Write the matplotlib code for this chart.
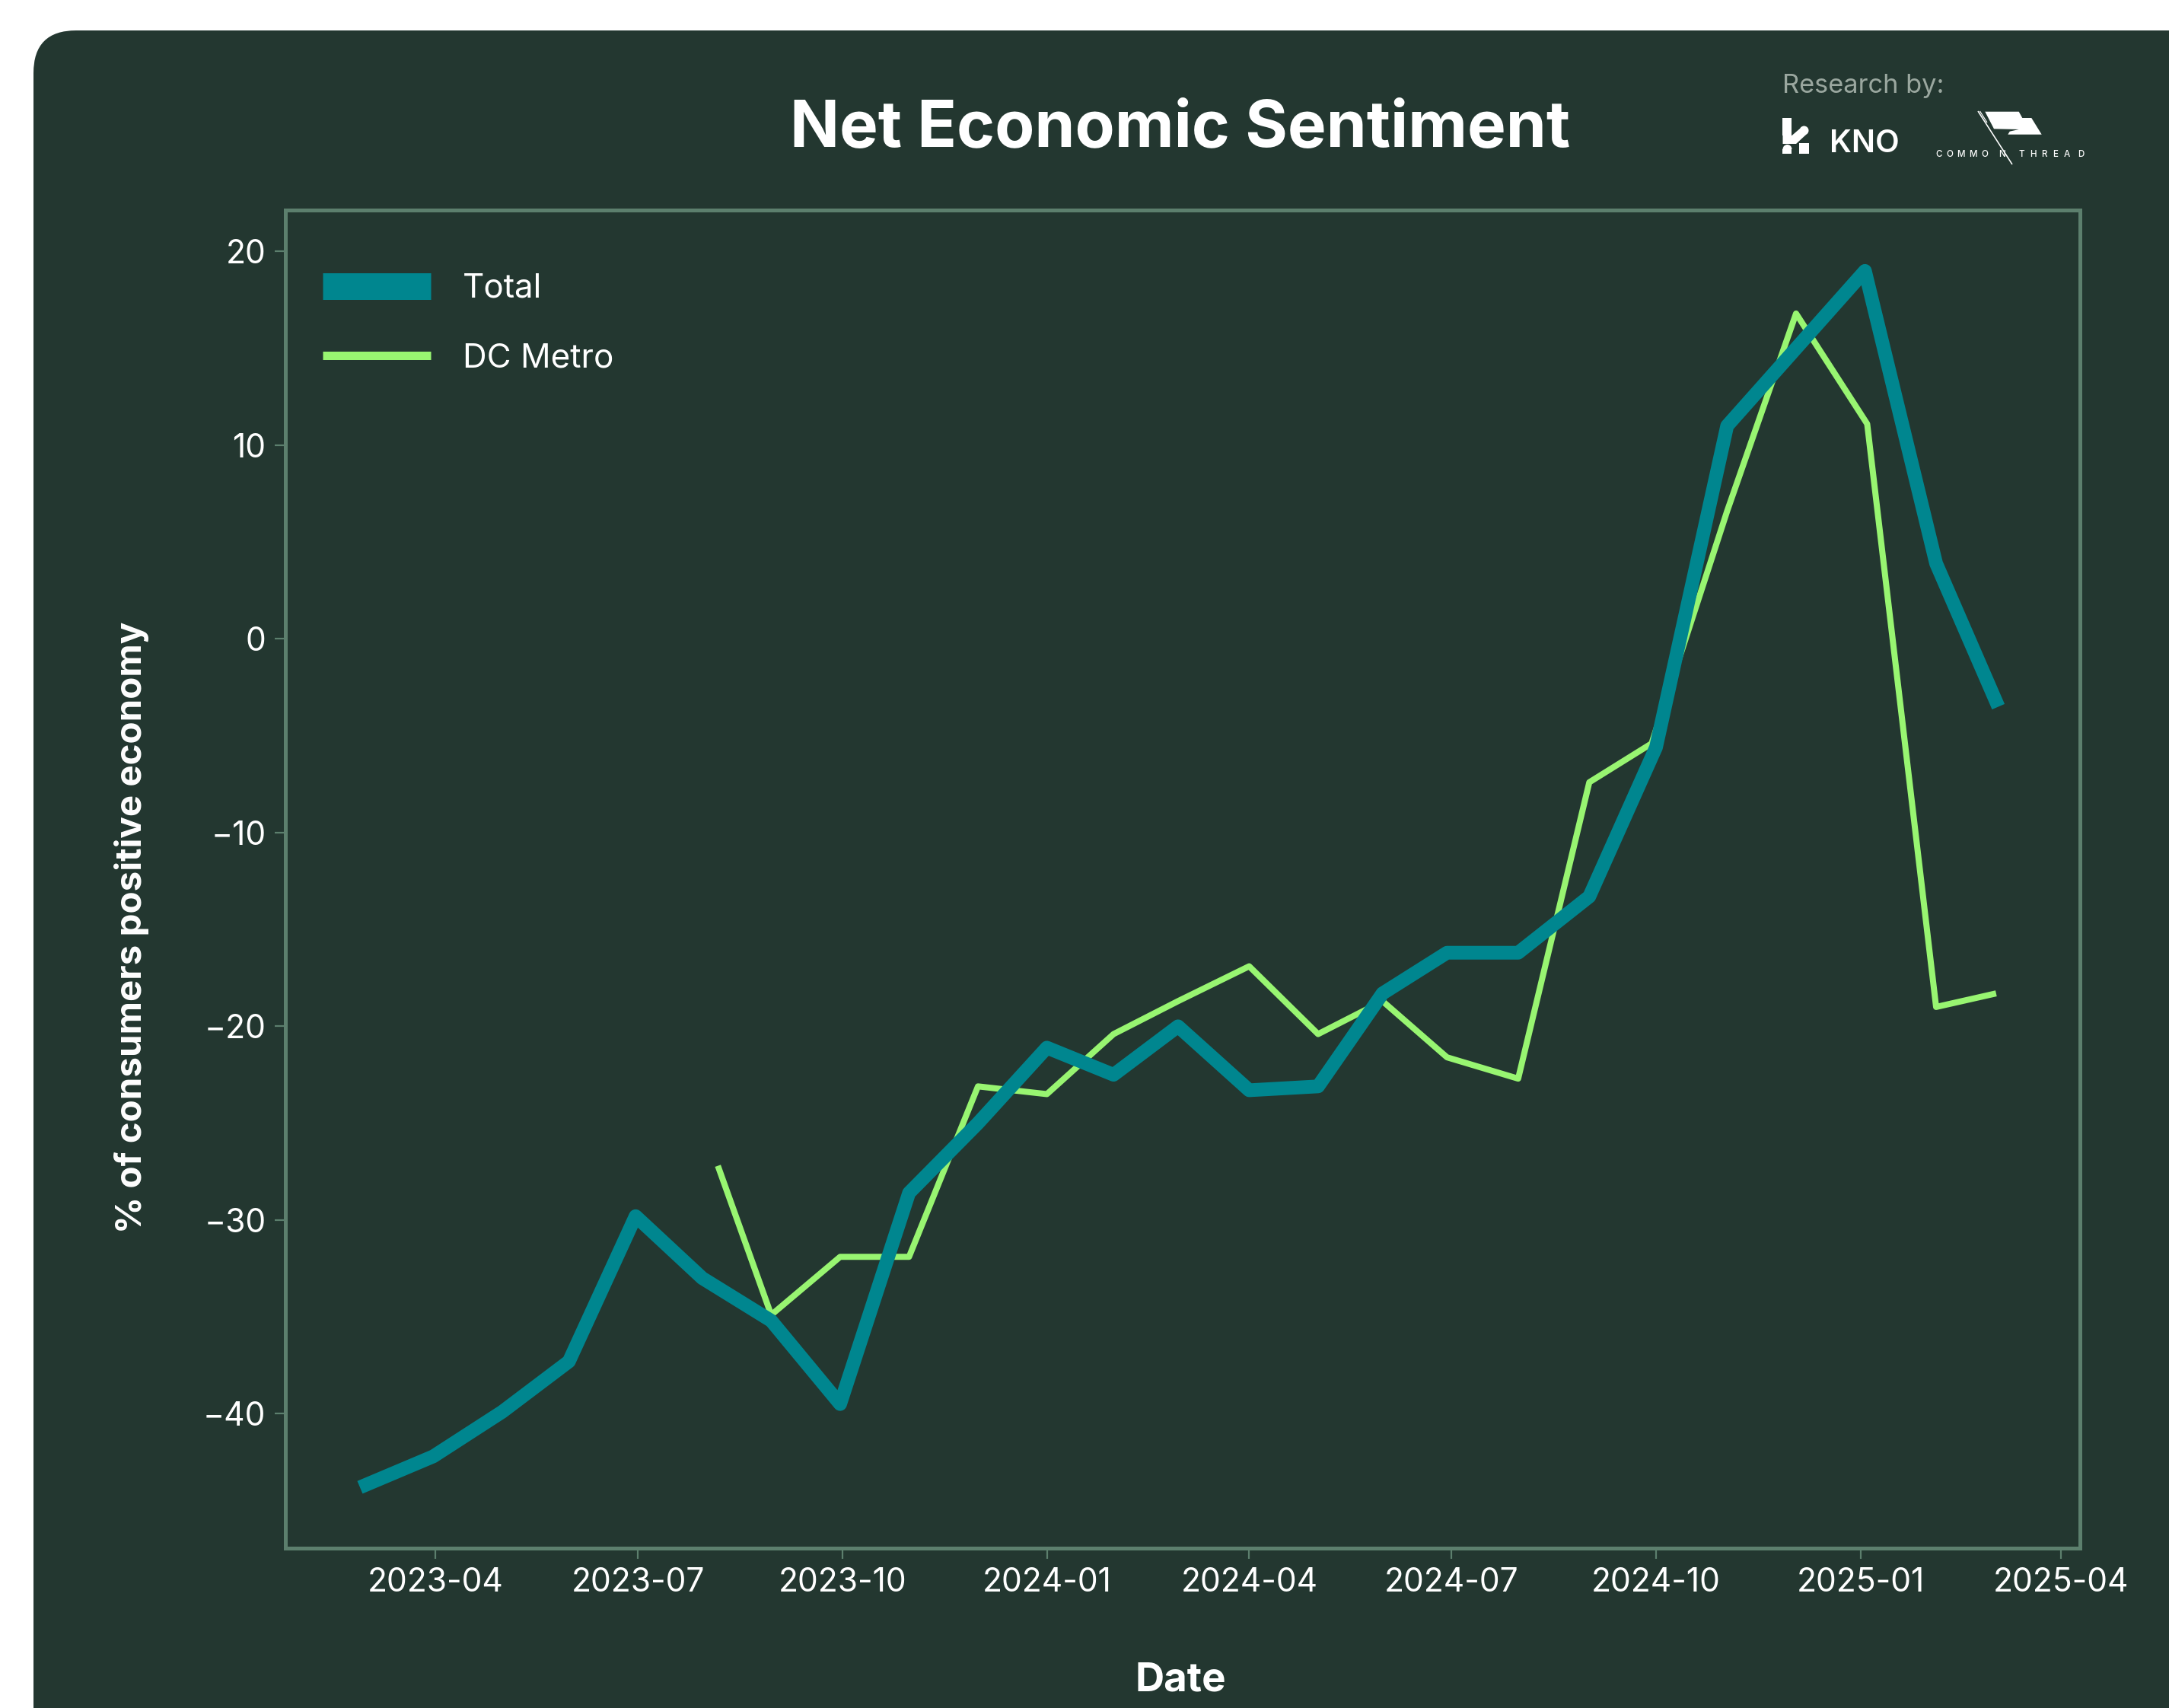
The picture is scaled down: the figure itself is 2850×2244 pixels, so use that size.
import pandas as pd
import matplotlib
matplotlib.use("Agg")
import matplotlib.pyplot as plt
import matplotlib.dates as mdates
from matplotlib.lines import Line2D
from matplotlib.patches import FancyBboxPatch, Polygon, Rectangle, Circle, Wedge

# ---- data -------------------------------------------------------------
total_dates = [
    "2023-02-26", "2023-03-31", "2023-05-01", "2023-05-31", "2023-06-30",
    "2023-07-30", "2023-08-30", "2023-09-30", "2023-10-31", "2023-12-01",
    "2024-01-01", "2024-01-31", "2024-02-29", "2024-04-01", "2024-05-02",
    "2024-05-31", "2024-06-29", "2024-07-31", "2024-09-01", "2024-10-01",
    "2024-11-02", "2024-12-03", "2025-01-03", "2025-02-04", "2025-03-04",
]
total_values = [
    -43.8, -42.2, -39.9, -37.3, -29.8,
    -33.0, -35.2, -39.5, -28.6, -25.0,
    -21.1, -22.5, -20.0, -23.3, -23.1,
    -18.3, -16.2, -16.2, -13.3, -5.6,
    11.0, 15.0, 19.0, 3.9, -3.5,
]

dc_dates = [
    "2023-08-06", "2023-08-30", "2023-09-30", "2023-10-31", "2023-12-01",
    "2024-01-01", "2024-01-31", "2024-02-29", "2024-04-01", "2024-05-02",
    "2024-05-31", "2024-06-29", "2024-07-31", "2024-09-01", "2024-09-29",
    "2024-11-02", "2024-12-03", "2025-01-04", "2025-02-04", "2025-03-03",
]
dc_values = [
    -27.2, -34.9, -31.9, -31.9, -23.1,
    -23.5, -20.4, -18.7, -16.9, -20.4,
    -18.7, -21.6, -22.7, -7.4, -5.4,
    6.6, 16.8, 11.1, -19.0, -18.3,
]

series_labels = ["Total", "DC Metro"]
y_ticks = [-40, -30, -20, -10, 0, 10, 20]
x_range = ["2023-01-23 07:00", "2025-04-09 17:00"]
title_text = "Net Economic Sentiment"
x_label = "Date"
y_label = "% of consumers positive economy"

# ---- style ------------------------------------------------------------
W, H, DPI = 2850, 2244, 200
PX = 72 / DPI  # points per pixel

CARD = "#233730"
FRAME = "#5C7F6D"
TEAL = "#00868F"
LIME = "#98F571"
MUTED = "#9AA79F"

plt.rcParams["font.family"] = ["Inter", "DejaVu Sans"]

fig = plt.figure(figsize=(W / DPI, H / DPI), dpi=DPI, facecolor="white")

# background canvas in pixel units (y downwards)
bg = fig.add_axes([0, 0, 1, 1], zorder=0)
bg.set_xlim(0, W)
bg.set_ylim(H, 0)
bg.axis("off")
bg.add_patch(FancyBboxPatch((44, 40), W + 300, H + 300,
                            boxstyle="round,pad=0,rounding_size=56",
                            fc=CARD, ec="none"))

# ---- main chart ---------------------------------------------------------
ax_l, ax_r, ax_t, ax_b = 374.5, 2733, 276, 2034
ax = fig.add_axes([ax_l / W, 1 - ax_b / H, (ax_r - ax_l) / W, (ax_b - ax_t) / H],
                  zorder=1)
ax.set_facecolor("none")

ax.plot(pd.to_datetime(dc_dates), dc_values, color=LIME, lw=8 * PX,
        solid_joinstyle="round", solid_capstyle="butt", zorder=2)
ax.plot(pd.to_datetime(total_dates), total_values, color=TEAL, lw=18 * PX,
        solid_joinstyle="round", solid_capstyle="butt", zorder=3)

ax.margins(y=0.05)
ax.set_xlim(pd.to_datetime(x_range[0]), pd.to_datetime(x_range[1]))
ax.xaxis.set_major_locator(mdates.MonthLocator(bymonth=[1, 4, 7, 10]))
ax.xaxis.set_major_formatter(mdates.DateFormatter("%Y-%m"))
ax.set_yticks(y_ticks)

for s in ax.spines.values():
    s.set_color(FRAME)
    s.set_linewidth(5 * PX)
ax.tick_params(axis="both", colors=FRAME, labelcolor="white",
               length=14 * PX, width=2.2 * PX, labelsize=15.3, pad=4)

ax.set_xlabel(x_label, fontsize=19, fontweight="bold", color="white")
ax.xaxis.label.set_va("baseline")
ax.xaxis.set_label_coords((1551 - ax_l) / (ax_r - ax_l), (ax_b - 2222) / (ax_b - ax_t))
ax.set_ylabel(y_label, fontsize=17.1, fontweight="bold", color="white")
ax.yaxis.label.set_va("baseline")
ax.yaxis.set_label_coords((186 - ax_l) / (ax_r - ax_l), (ax_b - 1218) / (ax_b - ax_t))

handles = [
    Line2D([], [], color=TEAL, lw=35 * PX, solid_capstyle="butt"),
    Line2D([], [], color=LIME, lw=11 * PX, solid_capstyle="butt"),
]
ax.legend(handles, series_labels, loc="upper left",
          bbox_to_anchor=((424 - ax_l) / (ax_r - ax_l), (ax_b - 359) / (ax_b - ax_t)),
          frameon=False, fontsize=15.8, labelcolor="white",
          handlelength=3.23, handletextpad=0.96, labelspacing=1.14,
          borderpad=0, borderaxespad=0)

# ---- header -------------------------------------------------------------
bg.text(1551, 193, title_text, ha="center", va="baseline", fontsize=30.7,
        fontweight="bold", color="white")
bg.text(2342, 121.7, "Research by:", ha="left", va="baseline", fontsize=12.4,
        color=MUTED)

# KNO mark
bg.add_patch(Rectangle((2342.5, 155), 12, 23, fc="white", ec="none"))
bg.add_patch(Polygon([(2342.5, 178), (2354.5, 178), (2365, 169), (2373, 177),
                      (2360, 189), (2342.5, 189)], closed=True, fc="white", ec="none"))
bg.add_patch(Circle((2370.5, 171.5), 6, fc="white", ec="none"))
bg.add_patch(Wedge((2348.5, 196), 6, 180, 360, fc="white", ec="none"))
bg.add_patch(Rectangle((2342.5, 196), 12, 5.7, fc="white", ec="none"))
bg.add_patch(Rectangle((2364, 188), 13.5, 13.7, fc="white", ec="none"))
bg.text(2403.6, 200, "KNO", ha="left", va="baseline", fontsize=14.8,
        fontweight="semibold", color="white")

# Common Thread mark
bg.add_patch(Polygon([(2608.3, 146.7), (2652.7, 146.7), (2657.3, 155), (2669.3, 155),
                      (2682.7, 176.7), (2638.3, 176.7), (2640.7, 172.7),
                      (2652.7, 170), (2620, 169.3)], closed=True, fc="white", ec="none"))
bg.plot([2599, 2644], [146, 216], color="white", lw=1.6 * PX, solid_capstyle="butt")
bg.plot([2601.5, 2611], [146, 161], color="white", lw=1.2 * PX, solid_capstyle="butt")
ct_letters = list("COMMON") + list("THREAD")
ct_x = [2547.5, 2561.7, 2576.7, 2592, 2607.7, 2631,
        2656, 2671, 2686, 2700.5, 2716, 2734]
for ch, xx in zip(ct_letters, ct_x):
    bg.text(xx, 206, ch, ha="center", va="baseline", fontsize=4.2,
            fontweight="medium", color="white")

fig.savefig("out.png", dpi=DPI, facecolor="white")
